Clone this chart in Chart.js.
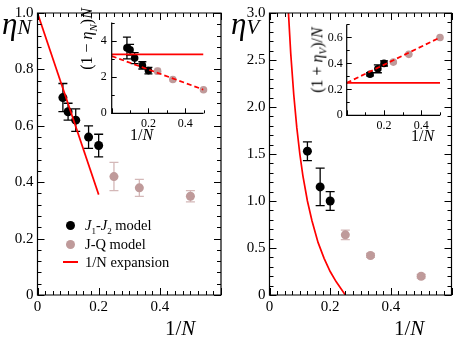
<!DOCTYPE html>
<html>
<head>
<meta charset="UTF-8">
<title>eta_N and eta_V vs 1/N</title>
<script src="https://cdn.jsdelivr.net/npm/chart.js"></script>
<style>
  body { margin: 0; background: #fff; width: 458px; height: 343px; overflow: hidden; position: relative; font-family: 'Liberation Serif', serif; }
  canvas { position: absolute; }
  .lbl { position: absolute; white-space: nowrap; color: #000; line-height: 1; }
  .rot { transform: translate(-50%, -50%) rotate(-90deg); }
  .dot { position: absolute; width: 9px; height: 9px; border-radius: 50%; }
</style>
</head>
<body>
<canvas id="mainN" width="229" height="343" style="left:0;top:0"></canvas>
<canvas id="mainV" width="229" height="343" style="left:229px;top:0"></canvas>
<canvas id="insetN" width="135" height="130" style="left:80px;top:10px"></canvas>
<canvas id="insetV" width="143" height="130" style="left:315px;top:10px"></canvas>

<!-- axis titles -->
<div class="lbl" style="left:2px;top:8px;font-size:31px"><i>η</i><i style="font-size:21px">N</i></div>
<div class="lbl" style="left:231px;top:8px;font-size:31px"><i>η</i><i style="font-size:21px">V</i></div>
<div class="lbl" style="left:165px;top:318px;font-size:21px">1/<i>N</i></div>
<div class="lbl" style="left:394px;top:318px;font-size:21px">1/<i>N</i></div>
<div class="lbl" style="left:130px;top:127px;font-size:16px">1/<i>N</i></div>
<div class="lbl" style="left:411px;top:128px;font-size:16px">1/<i>N</i></div>
<div class="lbl rot" style="left:89px;top:39px;font-size:16px">(1 − <i>η</i><sub style="font-size:11px"><i>N</i></sub>)<i>N</i></div>
<div class="lbl rot" style="left:319px;top:60px;font-size:16px">(1 + <i>η</i><sub style="font-size:11px"><i>V</i></sub>)/<i>N</i></div>

<!-- legend -->
<div class="dot" style="left:66px;top:221px;background:#000"></div>
<div class="lbl" style="left:85px;top:218px;font-size:14.5px"><i>J</i><sub style="font-size:9px">1</sub>-<i>J</i><sub style="font-size:9px">2</sub> model</div>
<div class="dot" style="left:66px;top:240px;background:#bf9a9a"></div>
<div class="lbl" style="left:85px;top:237px;font-size:14.5px">J-Q model</div>
<div style="position:absolute;left:63px;top:261px;width:15px;height:1.6px;background:#f00"></div>
<div class="lbl" style="left:85px;top:255px;font-size:14.5px">1/N expansion</div>

<script>
  // ---- data ----
  // 1/N values of the two models
  const invN_J1J2 = [0.083, 0.1, 0.125, 0.167, 0.2];
  const invN_JQ = [0.25, 0.333, 0.5];

  // eta_N (left panel)
  const etaN_J1J2 = [0.70, 0.65, 0.62, 0.56, 0.53];
  const etaN_J1J2_err = [0.05, 0.03, 0.04, 0.04, 0.04];
  const etaN_JQ = [0.42, 0.38, 0.35];
  const etaN_JQ_err = [0.05, 0.03, 0.02];
  const expN_x = [0, 0.2];
  const expN_y = [1.0, 0.356];

  // (1 - eta_N) N (left inset)
  const inN_J1J2 = [3.6, 3.5, 3.04, 2.64, 2.35];
  const inN_J1J2_err = [0.6, 0.3, 0.3, 0.2, 0.18];
  const inN_JQ = [2.32, 1.86, 1.3];
  const inN_JQ_err = [0.15, 0.09, 0.04];
  const inN_const_x = [0, 0.5];
  const inN_const_y = [3.25, 3.25];
  const inN_fit_x = [0, 0.5];
  const inN_fit_y = [3.15, 1.3];

  // eta_V (right panel)
  const invN_V = [0.125, 0.167, 0.2];
  const etaV_J1J2 = [1.53, 1.15, 1.0];
  const etaV_J1J2_err = [0.1, 0.2, 0.1];
  const etaV_JQ = [0.64, 0.42, 0.2];
  const etaV_JQ_err = [0.05, 0.02, 0.02];
  const expV_x = [0.0625, 0.07, 0.08, 0.09, 0.1, 0.11, 0.125, 0.14, 0.16, 0.18, 0.2, 0.22, 0.25];
  const expV_y = [3.0, 2.57, 2.13, 1.78, 1.5, 1.27, 1.0, 0.79, 0.56, 0.39, 0.25, 0.14, 0.0];

  // (1 + eta_V)/N (right inset)
  const inV_J1J2 = [0.316, 0.358, 0.4];
  const inV_J1J2_err = [0.012, 0.03, 0.02];
  const inV_JQ = [0.41, 0.47, 0.6];
  const inV_JQ_err = [0.012, 0.008, 0.01];
  const inV_const_x = [0, 0.5];
  const inV_const_y = [0.25, 0.25];
  const inV_fit_x = [0, 0.5];
  const inV_fit_y = [0.25, 0.6];

  // tick labels
  const mainXTicks = [0, 0.2, 0.4];
  const mainXLabels = ['0', '0.2', '0.4'];
  const mainNYTicks = [0, 0.2, 0.4, 0.6, 0.8, 1.0];
  const mainNYLabels = ['0', '0.2', '0.4', '0.6', '0.8', '1.0'];
  const mainVYTicks = [0, 0.5, 1.0, 1.5, 2.0, 2.5, 3.0];
  const mainVYLabels = ['0', '0.5', '1.0', '1.5', '2.0', '2.5', '3.0'];
  const insetXTicks = [0.2, 0.4];
  const insetXLabels = ['0.2', '0.4'];
  const insetNYTicks = [0, 2, 4];
  const insetNYLabels = ['0', '2', '4'];
  const insetVYTicks = [0, 0.2, 0.4, 0.6];
  const insetVYLabels = ['0', '0.2', '0.4', '0.6'];

  const RED = '#ff0000';
  const GREY = '#bf9a9a';
  const GREY_ERR = '#d4b8b8';

  const pts = (xs, ys) => xs.map((x, i) => ({ x: x, y: ys[i] }));

  // error bars, drawn below the points
  const errorBars = {
    id: 'errorBars',
    beforeDatasetsDraw(chart) {
      const { ctx, scales: { x, y } } = chart;
      chart.data.datasets.forEach(ds => {
        if (!ds.errors) return;
        ctx.save();
        ctx.strokeStyle = ds.errorColor;
        ctx.lineWidth = 1.3;
        ds.data.forEach((p, j) => {
          const e = ds.errors[j];
          const px = x.getPixelForValue(p.x);
          const top = y.getPixelForValue(p.y + e);
          const bot = y.getPixelForValue(p.y - e);
          const c = ds.capWidth;
          ctx.beginPath();
          ctx.moveTo(px, top); ctx.lineTo(px, bot);
          ctx.moveTo(px - c, top); ctx.lineTo(px + c, top);
          ctx.moveTo(px - c, bot); ctx.lineTo(px + c, bot);
          ctx.stroke();
        });
        ctx.restore();
      });
    }
  };

  // frame + inward ticks
  const frame = {
    id: 'frame',
    afterDatasetsDraw(chart, args, o) {
      const { ctx, chartArea: a, scales: { x, y } } = chart;
      ctx.save();
      ctx.strokeStyle = '#000';
      ctx.lineWidth = 1.2;
      ctx.beginPath();
      if (o.box) {
        ctx.rect(a.left, a.top, a.right - a.left, a.bottom - a.top);
      } else {
        ctx.moveTo(a.left, a.top); ctx.lineTo(a.left, a.bottom); ctx.lineTo(a.right, a.bottom);
      }
      ctx.stroke();
      ctx.lineWidth = 1;
      ctx.beginPath();
      const isMajor = (v, m) => Math.abs(v / m - Math.round(v / m)) < 1e-6;
      for (let i = 0; x.min + i * o.xStep <= x.max + 1e-9; i++) {
        const v = x.min + i * o.xStep;
        const px = Math.round(x.getPixelForValue(v)) + 0.5;
        const len = isMajor(v, o.xMajor) ? o.majorLen : o.minorLen;
        ctx.moveTo(px, a.bottom); ctx.lineTo(px, a.bottom - len);
        if (o.box) { ctx.moveTo(px, a.top); ctx.lineTo(px, a.top + len); }
      }
      for (let i = 0; y.min + i * o.yStep <= y.max + 1e-9; i++) {
        const v = y.min + i * o.yStep;
        const py = Math.round(y.getPixelForValue(v)) + 0.5;
        const len = isMajor(v, o.yMajor) ? o.majorLen : o.minorLen;
        ctx.moveTo(a.left, py); ctx.lineTo(a.left + len, py);
        if (o.box) { ctx.moveTo(a.right, py); ctx.lineTo(a.right - len, py); }
      }
      ctx.stroke();
      ctx.restore();
    }
  };

  function makeChart(id, cfg) {
    const fontSize = cfg.fontSize;
    return new Chart(document.getElementById(id), {
      type: 'scatter',
      data: { datasets: cfg.datasets },
      options: {
        responsive: false,
        animation: false,
        events: [],
        layout: { autoPadding: false, padding: cfg.padding },
        plugins: {
          legend: { display: false },
          tooltip: { enabled: false },
          frame: cfg.frame
        },
        scales: {
          x: {
            type: 'linear', min: cfg.xMin, max: cfg.xMax,
            grid: { display: false, drawTicks: false }, border: { display: false },
            afterBuildTicks: s => { s.ticks = cfg.xTicks.map(v => ({ value: v })); },
            afterFit: s => { s.height = cfg.xHeight; },
            ticks: {
              padding: cfg.xPad, color: '#000', maxRotation: 0, autoSkip: false,
              font: { family: 'Liberation Serif', size: fontSize },
              callback: (v, i) => cfg.xLabels[i]
            }
          },
          y: {
            type: 'linear', min: cfg.yMin, max: cfg.yMax,
            grid: { display: false, drawTicks: false }, border: { display: false },
            afterBuildTicks: s => { s.ticks = cfg.yTicks.map(v => ({ value: v })); },
            afterFit: s => { s.width = cfg.yWidth; },
            ticks: {
              padding: cfg.yPad, color: '#000', autoSkip: false,
              font: { family: 'Liberation Serif', size: fontSize },
              callback: (v, i) => cfg.yLabels[i]
            }
          }
        }
      },
      plugins: [errorBars, frame]
    });
  }

  const line = (xs, ys, dash) => ({
    data: pts(xs, ys), showLine: true, pointRadius: 0, borderColor: RED,
    borderWidth: 1.7, borderDash: dash || [], fill: false
  });
  const dots = (xs, ys, errs, color, ecolor, r, cap) => ({
    data: pts(xs, ys), pointRadius: r, pointBackgroundColor: color, pointBorderWidth: 0,
    borderColor: color, showLine: false, clip: false,
    errors: errs, errorColor: ecolor, capWidth: cap
  });

  // left main panel
  makeChart('mainN', {
    fontSize: 15,
    padding: { top: 12, right: 8, left: 0, bottom: 0 },
    xMin: 0, xMax: 0.6, yMin: 0, yMax: 1.0,
    xTicks: mainXTicks, xLabels: mainXLabels, yTicks: mainNYTicks, yLabels: mainNYLabels,
    xHeight: 48, yWidth: 37.5, xPad: 3, yPad: 4,
    frame: { box: true, xStep: 0.025, xMajor: 0.2, yStep: 0.04, yMajor: 0.2, majorLen: 7, minorLen: 4 },
    datasets: [
      line(expN_x, expN_y),
      dots(invN_JQ, etaN_JQ, etaN_JQ_err, GREY, GREY_ERR, 4.5, 4.5),
      dots(invN_J1J2, etaN_J1J2, etaN_J1J2_err, '#000', '#000', 4.5, 4.5)
    ]
  });

  // right main panel
  makeChart('mainV', {
    fontSize: 15,
    padding: { top: 12, right: 6.5, left: 0, bottom: 0 },
    xMin: 0, xMax: 0.6, yMin: 0, yMax: 3.0,
    xTicks: mainXTicks, xLabels: mainXLabels, yTicks: mainVYTicks, yLabels: mainVYLabels,
    xHeight: 48, yWidth: 40.5, xPad: 3, yPad: 4,
    frame: { box: true, xStep: 0.025, xMajor: 0.2, yStep: 0.1, yMajor: 0.5, majorLen: 7, minorLen: 4 },
    datasets: [
      line(expV_x, expV_y),
      dots(invN_JQ, etaV_JQ, etaV_JQ_err, GREY, GREY_ERR, 4.5, 4.5),
      dots(invN_V, etaV_J1J2, etaV_J1J2_err, '#000', '#000', 4.5, 4.5)
    ]
  });

  // left inset
  makeChart('insetN', {
    fontSize: 12,
    padding: { top: 12.5, right: 11.5, left: 0, bottom: 0 },
    xMin: 0, xMax: 0.5, yMin: 0, yMax: 5,
    xTicks: insetXTicks, xLabels: insetXLabels, yTicks: insetNYTicks, yLabels: insetNYLabels,
    xHeight: 26.7, yWidth: 31.7, xPad: 3, yPad: 5,
    frame: { box: false, xStep: 0.1, xMajor: 0.2, yStep: 1, yMajor: 2, majorLen: 5, minorLen: 3 },
    datasets: [
      line(inN_const_x, inN_const_y),
      line(inN_fit_x, inN_fit_y, [5, 3]),
      dots(invN_JQ, inN_JQ, inN_JQ_err, GREY, GREY_ERR, 3.8, 3),
      dots(invN_J1J2, inN_J1J2, inN_J1J2_err, '#000', '#000', 3.8, 4)
    ]
  });

  // right inset
  makeChart('insetV', {
    fontSize: 12,
    padding: { top: 14.5, right: 18, left: 0, bottom: 0 },
    xMin: 0, xMax: 0.5, yMin: 0, yMax: 0.7,
    xTicks: insetXTicks, xLabels: insetXLabels, yTicks: insetVYTicks, yLabels: insetVYLabels,
    xHeight: 24.7, yWidth: 31.7, xPad: 3, yPad: 4,
    frame: { box: false, xStep: 0.1, xMajor: 0.2, yStep: 0.1, yMajor: 0.2, majorLen: 5, minorLen: 3 },
    datasets: [
      line(inV_const_x, inV_const_y),
      line(inV_fit_x, inV_fit_y, [5, 3]),
      dots(invN_JQ, inV_JQ, inV_JQ_err, GREY, GREY_ERR, 3.8, 3),
      dots(invN_V, inV_J1J2, inV_J1J2_err, '#000', '#000', 3.8, 4)
    ]
  });
</script>
</body>
</html>
